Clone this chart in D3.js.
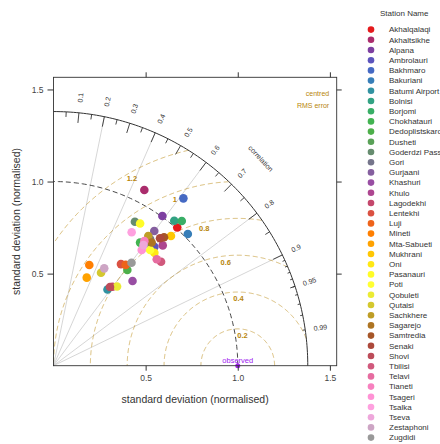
<!DOCTYPE html>
<html>
<head>
<meta charset="utf-8">
<script src="https://cdn.jsdelivr.net/npm/d3@7"></script>
<style>
  body { margin: 0; background: #fff; }
  svg { display: block; font-family: "Liberation Sans", Arial, sans-serif; }
</style>
</head>
<body>
<div id="chart"></div>
<script>
// stations, in legend order
const stations = ["Akhalqalaqi", "Akhaltsikhe", "Alpana", "Ambrolauri", "Bakhmaro", "Bakuriani",
  "Batumi Airport", "Bolnisi", "Borjomi", "Chokhatauri", "Dedoplistskaro", "Dusheti", "Goderdzi Pass",
  "Gori", "Gurjaani", "Khashuri", "Khulo", "Lagodekhi", "Lentekhi", "Luji", "Mineti", "Mta-Sabueti",
  "Mukhrani", "Oni", "Pasanauri", "Poti", "Qobuleti", "Qutaisi", "Sachkhere", "Sagarejo", "Samtredia",
  "Senaki", "Shovi", "Tbilisi", "Telavi", "Tianeti", "Tsageri", "Tsalka", "Tseva", "Zestaphoni", "Zugdidi"];

// normalised standard deviation of each station
const sdNorm = [1.007, 1.074, 1.005, 0.846, 1.150, 1.021, 0.507, 1.024, 1.050, 0.817, 0.656, 0.834, 0.898,
  0.865, 0.913, 0.629, 0.882, 0.535, 0.662, 0.673, 0.580, 0.511, 0.950, 0.822, 0.904, 0.818, 0.551, 0.567,
  0.872, 0.855, 0.920, 0.902, 0.526, 0.812, 0.805, 0.837, 0.790, 0.840, 0.817, 0.596, 0.701];

// correlation with the observations
const corr = [0.667, 0.459, 0.588, 0.647, 0.613, 0.714, 0.578, 0.640, 0.663, 0.575, 0.611, 0.606, 0.492,
  0.606, 0.599, 0.682, 0.672, 0.598, 0.553, 0.582, 0.335, 0.353, 0.671, 0.666, 0.520, 0.641, 0.626, 0.455,
  0.590, 0.623, 0.652, 0.641, 0.583, 0.719, 0.696, 0.589, 0.606, 0.505, 0.598, 0.462, 0.604];

// brewer Set1, spread over the stations
const set1 = ["#E41A1C", "#377EB8", "#4DAF4A", "#984EA3", "#FF7F00", "#FFFF33", "#A65628", "#F781BF", "#999999"];

const corrLabels = [0.1, 0.2, 0.3, 0.4, 0.5, 0.6, 0.7, 0.8, 0.9, 0.95, 0.99];
const bigTicks = [0.1, 0.2, 0.3, 0.4, 0.5, 0.6, 0.7, 0.8, 0.9];
const medTicks = [0.05, 0.15, 0.25, 0.35, 0.45, 0.55, 0.65, 0.75, 0.85, 0.95];
const smlTicks = [0.91, 0.92, 0.93, 0.94, 0.95, 0.96, 0.97, 0.98, 0.99];
const corrLines = [0.2, 0.4, 0.6, 0.8, 0.9];
const rmsLevels = [0, 0.2, 0.4, 0.6, 0.8, 1, 1.2];
const axisTicks = [0.5, 1.0, 1.5];

const W = 440, H = 444;
const sdRef = 1;
const maxsd = 1.2 * d3.max(sdNorm);
const rmsCol = "#b8860b";
const ink = "#333";

// fmm cubic spline per channel (like colorRampPalette(..., interpolate = "spline"))
function fmmSpline(xs, ys) {
  const n = xs.length, nm1 = n - 1;
  const b = new Array(n).fill(0), c = new Array(n).fill(0), d = new Array(n).fill(0);
  d[0] = xs[1] - xs[0];
  c[1] = (ys[1] - ys[0]) / d[0];
  for (let i = 1; i < nm1; i++) {
    d[i] = xs[i + 1] - xs[i];
    b[i] = 2 * (d[i - 1] + d[i]);
    c[i + 1] = (ys[i + 1] - ys[i]) / d[i];
    c[i] = c[i + 1] - c[i];
  }
  b[0] = -d[0];
  b[nm1] = -d[n - 2];
  c[0] = c[nm1] = 0;
  if (n > 3) {
    c[0] = c[2] / (xs[3] - xs[1]) - c[1] / (xs[2] - xs[0]);
    c[nm1] = c[n - 2] / (xs[nm1] - xs[n - 3]) - c[n - 3] / (xs[n - 2] - xs[n - 4]);
    c[0] = c[0] * d[0] * d[0] / (xs[3] - xs[0]);
    c[nm1] = -c[nm1] * d[n - 2] * d[n - 2] / (xs[nm1] - xs[n - 4]);
  }
  for (let i = 1; i <= nm1; i++) {
    const t = d[i - 1] / b[i - 1];
    b[i] = b[i] - t * d[i - 1];
    c[i] = c[i] - t * c[i - 1];
  }
  c[nm1] = c[nm1] / b[nm1];
  for (let i = n - 2; i >= 0; i--) c[i] = (c[i] - d[i] * c[i + 1]) / b[i];
  b[nm1] = (ys[n - 1] - ys[n - 2]) / d[n - 2] + d[n - 2] * (c[n - 2] + 2 * c[nm1]);
  for (let i = 0; i < nm1; i++) {
    b[i] = (ys[i + 1] - ys[i]) / d[i] - d[i] * (c[i + 1] + 2 * c[i]);
    d[i] = (c[i + 1] - c[i]) / d[i];
    c[i] = 3 * c[i];
  }
  c[nm1] = 3 * c[nm1];
  d[nm1] = d[n - 2];
  return u => {
    let i = 0;
    while (i < nm1 && u >= xs[i + 1]) i++;
    if (i === nm1) i = nm1 - 1;
    const dx = u - xs[i];
    return ys[i] + dx * (b[i] + dx * (c[i] + dx * d[i]));
  };
}
const knots = set1.map((_, i) => i / (set1.length - 1));
const rgbs = set1.map(s => d3.rgb(s));
const chan = ["r", "g", "b"].map(k => fmmSpline(knots, rgbs.map(c => c[k] / 255)));
const clamp = v => Math.max(0, Math.min(1, v));
const colour = i => {
  const t = i / (stations.length - 1);
  const [r, g, b] = chan.map(f => Math.round(clamp(f(t)) * 255));
  return d3.rgb(r, g, b).formatHex();
};

const svg = d3.select("#chart").append("svg")
  .attr("width", W)
  .attr("height", H);

// scales (same px per unit on both axes)
const x = d3.scaleLinear().domain([0, 1.537]).range([53.5, 336.7]);
const y = d3.scaleLinear().domain([0, 1.566]).range([365.7, 77.3]);

const line = d3.line().x(d => x(d[0])).y(d => y(d[1]));
const arcPts = (r, n = 120) => d3.range(n + 1).map(i => {
  const a = Math.PI / 2 * i / n;
  return [r * Math.cos(a), r * Math.sin(a)];
});
const polar = (r, c) => [r * c, r * Math.sqrt(1 - c * c)];

const g = svg.append("g");

// radial grid lines for correlation
corrLines.forEach(c => {
  g.append("path")
    .attr("d", line([[0, 0], polar(maxsd, c)]))
    .attr("stroke", "#ccc")
    .attr("stroke-width", 0.8)
    .attr("fill", "none");
});

// centred RMS error arcs around the observed point
rmsLevels.forEach((gm, k) => {
  if (gm === 0) return;
  const pts = d3.range(0, Math.PI + 0.0001, 0.004)
    .map(t => [sdRef + gm * Math.cos(t), gm * Math.sin(t)])
    .filter(p => p[0] >= 0 && p[0] * p[0] + p[1] * p[1] <= maxsd * maxsd);
  g.append("path")
    .attr("d", line(pts))
    .attr("stroke", rmsCol)
    .attr("stroke-opacity", 0.6)
    .attr("stroke-width", 0.9)
    .attr("stroke-dasharray", "5,3")
    .attr("fill", "none");
  // label position as in openair
  const idx = Math.floor(45 + k * 25 / (rmsLevels.length - 1));
  const t = (idx - 1) * 0.03;
  const lx = sdRef + gm * Math.cos(t), ly = gm * Math.sin(t);
  g.append("text")
    .attr("x", x(lx))
    .attr("y", y(ly) + 9)
    .attr("text-anchor", "middle")
    .attr("font-size", 7.5)
    .attr("font-weight", "bold")
    .attr("fill", rmsCol)
    .text(gm);
});

// reference sd arc (dashed) and outer arc
g.append("path")
  .attr("d", line(arcPts(sdRef)))
  .attr("stroke", ink)
  .attr("stroke-width", 0.9)
  .attr("stroke-dasharray", "5,3")
  .attr("fill", "none");
g.append("path")
  .attr("d", line(arcPts(maxsd)))
  .attr("stroke", ink)
  .attr("stroke-width", 1)
  .attr("fill", "none");

// ticks on the outer arc
[[bigTicks, 0.96], [medTicks, 0.98], [smlTicks, 0.99]].forEach(([ticks, f]) => {
  ticks.forEach(c => {
    g.append("path")
      .attr("d", line([polar(maxsd, c), polar(maxsd * f, c)]))
      .attr("stroke", ink)
      .attr("stroke-width", 0.9);
  });
});

// correlation labels
corrLabels.forEach(c => {
  const p = polar(1.06 * maxsd, c);
  const ang = Math.acos(c) * 180 / Math.PI;
  g.append("text")
    .attr("transform", `translate(${x(p[0])},${y(p[1])}) rotate(${-ang})`)
    .attr("text-anchor", "middle")
    .attr("dy", "0.35em")
    .attr("font-size", 7)
    .attr("fill", ink)
    .text(c);
});
g.append("text")
  .attr("transform", `translate(${x(0.815 * maxsd)},${y(0.815 * maxsd)}) rotate(47)`)
  .attr("text-anchor", "middle")
  .attr("dy", "0.35em")
  .attr("font-size", 7)
  .attr("fill", ink)
  .text("correlation");

// centred RMS error label
const rmsLab = g.append("text")
  .attr("text-anchor", "end")
  .attr("font-size", 7)
  .attr("fill", rmsCol);
rmsLab.append("tspan").attr("x", x(1.1 * maxsd) - 4).attr("y", y(1.05 * maxsd) - 3).text("centred");
rmsLab.append("tspan").attr("x", x(1.1 * maxsd) - 4).attr("y", y(1.05 * maxsd) + 9).text("RMS error");

// observed point
g.append("circle")
  .attr("cx", x(sdRef)).attr("cy", y(0)).attr("r", 2.5)
  .attr("fill", "#a020f0");
g.append("text")
  .attr("x", x(sdRef)).attr("y", y(0) - 3)
  .attr("text-anchor", "middle")
  .attr("font-size", 7.5)
  .attr("fill", "#a020f0")
  .text("observed");

// station points
g.selectAll("circle.stn")
  .data(stations)
  .join("circle")
  .attr("class", "stn")
  .attr("cx", (d, i) => x(polar(sdNorm[i], corr[i])[0]))
  .attr("cy", (d, i) => y(polar(sdNorm[i], corr[i])[1]))
  .attr("r", 4.3)
  .attr("fill", (d, i) => colour(i));

// panel box and axes
svg.append("rect")
  .attr("x", x(0)).attr("y", y.range()[1])
  .attr("width", x.range()[1] - x(0))
  .attr("height", y(0) - y.range()[1])
  .attr("fill", "none")
  .attr("stroke", ink)
  .attr("stroke-width", 0.9);

const axisStyle = sel => {
  sel.select(".domain").remove();
  sel.selectAll("line").attr("stroke", ink);
  sel.selectAll("text").attr("font-size", 8.5).attr("fill", "#444").attr("font-family", null);
};
const fmt = d3.format(".1f");
svg.append("g").attr("transform", `translate(0,${y(0)})`)
  .call(d3.axisBottom(x).tickValues(axisTicks).tickFormat(fmt).tickSize(5).tickPadding(4))
  .call(axisStyle);
svg.append("g").attr("transform", `translate(${x(0)},0)`)
  .call(d3.axisLeft(y).tickValues(axisTicks).tickFormat(fmt).tickSize(6).tickPadding(4))
  .call(axisStyle);
svg.append("g").attr("transform", `translate(0,${y.range()[1]})`)
  .call(d3.axisTop(x).tickValues(axisTicks).tickFormat("").tickSize(5))
  .call(axisStyle);
svg.append("g").attr("transform", `translate(${x.range()[1]},0)`)
  .call(d3.axisRight(y).tickValues(axisTicks).tickFormat("").tickSize(5))
  .call(axisStyle);

svg.append("text")
  .attr("x", (x.range()[0] + x.range()[1]) / 2)
  .attr("y", 403)
  .attr("text-anchor", "middle")
  .attr("font-size", 10.5)
  .attr("fill", ink)
  .text("standard deviation (normalised)");
svg.append("text")
  .attr("transform", `translate(20,${(y.range()[0] + y.range()[1]) / 2}) rotate(-90)`)
  .attr("text-anchor", "middle")
  .attr("font-size", 10.5)
  .attr("fill", ink)
  .text("standard deviation (normalised)");

// legend
const leg = svg.append("g");
leg.append("text")
  .attr("x", 380).attr("y", 16)
  .attr("font-size", 8)
  .attr("fill", ink)
  .text("Station Name");
const ly = d3.scalePoint().domain(stations).range([29.6, 437.6]);
const rows = leg.selectAll("g.row")
  .data(stations)
  .join("g")
  .attr("class", "row")
  .attr("transform", d => `translate(0,${ly(d)})`);
rows.append("circle")
  .attr("cx", 371).attr("r", 3.3)
  .attr("fill", (d, i) => colour(i));
rows.append("text")
  .attr("x", 389).attr("dy", "0.35em")
  .attr("font-size", 8)
  .attr("fill", ink)
  .text(d => d);
</script>
</body>
</html>
